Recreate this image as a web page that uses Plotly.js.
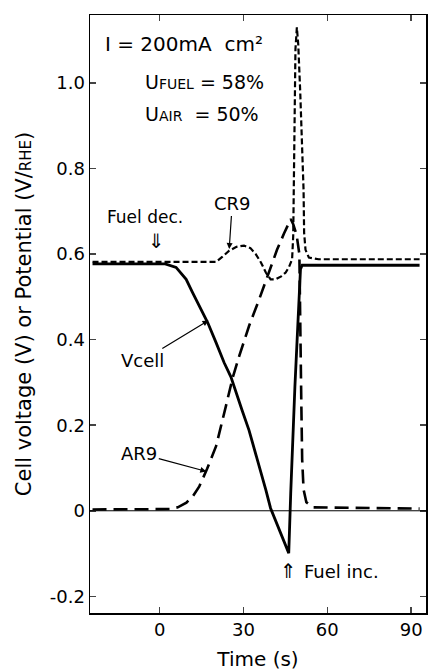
<!DOCTYPE html>
<html>
<head>
<meta charset="utf-8">
<script src="https://cdn.plot.ly/plotly-3.0.1.min.js"></script>
<style>html,body{margin:0;padding:0;background:#fff;}#chart{width:429px;height:671px;}</style>
</head>
<body>
<div id="chart"></div>
<script>
// ---- data (time in s, potential in V) ----
const vcellTime = [-24, -10, 0, 2, 5.9, 9.5, 11.8, 14.8, 17.2, 20.2, 23.1, 25.5, 27.3, 29.5, 32, 35, 38, 39.7, 42.5, 46.2, 46.9, 47.6, 48.4, 49.2, 49.9, 50.4, 51, 60, 93];
const vcellVolt = [0.577, 0.577, 0.577, 0.577, 0.569, 0.541, 0.51, 0.471, 0.44, 0.393, 0.346, 0.313, 0.276, 0.235, 0.188, 0.12, 0.049, 0.006, -0.04, -0.099, 0.04, 0.17, 0.29, 0.4, 0.5, 0.565, 0.574, 0.574, 0.574];

const cr9Time = [-24, 0, 15, 20.2, 22.5, 24.9, 27.5, 30.2, 32.5, 34.4, 36.3, 38, 39.7, 41.5, 43.5, 45.1, 46.3, 47.4, 47.8, 48.0, 48.2, 48.6, 49.1, 49.6, 50.3, 51.0, 51.5, 51.7, 52.2, 53.4, 56.9, 93];
const cr9Volt = [0.582, 0.582, 0.582, 0.582, 0.594, 0.608, 0.617, 0.62, 0.614, 0.6, 0.58, 0.557, 0.541, 0.541, 0.548, 0.557, 0.57, 0.588, 0.643, 0.78, 0.96, 1.08, 1.13, 1.09, 0.98, 0.85, 0.75, 0.65, 0.61, 0.592, 0.588, 0.588];

const ar9Time = [-24, 0, 3.6, 6.5, 9.6, 12, 14.2, 17, 20.2, 23.7, 26.1, 28.5, 32, 35.6, 39.1, 42, 44.5, 46.9, 47.8, 49, 50, 50.4, 50.7, 51, 51.5, 52.5, 55, 93];
const ar9Volt = [0.003, 0.003, 0.004, 0.008, 0.019, 0.035, 0.057, 0.098, 0.151, 0.244, 0.31, 0.362, 0.432, 0.494, 0.557, 0.61, 0.648, 0.682, 0.67, 0.645, 0.6, 0.45, 0.25, 0.12, 0.05, 0.02, 0.008, 0.005];

const xTicks = [0, 30, 60, 90];
const yTicks = [-0.2, 0, 0.2, 0.4, 0.6, 0.8, 1.0];
const yTickText = ["-0.2", "0", "0.2", "0.4", "0.6", "0.8", "1.0"];

const FONT = "DejaVu Sans";

const traces = [
  {x: vcellTime, y: vcellVolt, name: "Vcell", mode: "lines", line: {color: "#000", width: 2.8}},
  {x: cr9Time, y: cr9Volt, name: "CR9", mode: "lines", line: {color: "#000", width: 2.2, dash: "6px,3px"}},
  {x: ar9Time, y: ar9Volt, name: "AR9", mode: "lines", line: {color: "#000", width: 2.6, dash: "14px,7px"}}
];

const small = (s, sz) => "<span style='font-size:" + sz + "px'>" + s + "</span>";

const layout = {
  width: 429, height: 671,
  margin: {l: 90, r: 1, t: 15, b: 58},
  paper_bgcolor: "#fff", plot_bgcolor: "#fff",
  showlegend: false,
  font: {family: FONT, size: 17, color: "#000"},
  xaxis: {
    range: [-24.9, 95.3], tickvals: xTicks, ticks: "inside", ticklen: 6, tickwidth: 1.5,
    showline: true, linewidth: 1.5, linecolor: "#000", mirror: "ticks", showgrid: false, zeroline: false,
    tickfont: {family: FONT, size: 18},
    title: {text: "Time (s)", font: {family: FONT, size: 20}}
  },
  yaxis: {
    range: [-0.239, 1.159], tickvals: yTicks, ticktext: yTickText, ticks: "inside", ticklen: 6, tickwidth: 1.5,
    showline: true, linewidth: 1.5, linecolor: "#000", mirror: "ticks", showgrid: false, zeroline: false,
    tickfont: {family: FONT, size: 18},
    automargin: true,
    title: {text: "Cell voltage (V) or Potential (V/" + small("RHE", 15) + ")", font: {family: FONT, size: 21}, standoff: 12}
  },
  shapes: [
    {type: "line", xref: "paper", x0: 0, x1: 1, yref: "y", y0: 0, y1: 0, line: {color: "#000", width: 1}}
  ],
  annotations: [
    {x: -20.3, y: 1.092, xanchor: "left", text: "I = 200mA  cm²", showarrow: false, font: {size: 20}},
    {x: -6.0, y: 1.003, xanchor: "left", text: "U" + small("FUEL", 14) + " = 58%", showarrow: false, font: {size: 19}},
    {x: -6.0, y: 0.928, xanchor: "left", text: "U" + small("AIR", 14) + "  = 50%", showarrow: false, font: {size: 19}},
    {x: 24.9, y: 0.612, ax: 3, ay: -45, text: "CR9", showarrow: true, arrowhead: 2, arrowsize: 1, arrowwidth: 1.2, arrowcolor: "#000", font: {size: 18}},
    {x: -19.6, y: 0.687, xanchor: "left", text: "Fuel dec.", showarrow: false, font: {size: 17}},
    {x: -1.1, y: 0.63, text: "⇓", showarrow: false, font: {size: 20}},
    {x: 17.5, y: 0.445, ax: -66, ay: 40, text: "Vcell", showarrow: true, arrowhead: 2, arrowsize: 1, arrowwidth: 1.2, arrowcolor: "#000", font: {size: 18}},
    {x: 16.7, y: 0.092, ax: -67, ay: -18, text: "AR9", showarrow: true, arrowhead: 2, arrowsize: 1, arrowwidth: 1.2, arrowcolor: "#000", font: {size: 18}},
    {x: 46.2, y: -0.141, text: "⇑", showarrow: false, font: {size: 20}},
    {x: 50.9, y: -0.141, xanchor: "left", text: "Fuel inc.", showarrow: false, font: {size: 18}}
  ]
};

Plotly.newPlot("chart", traces, layout, {displayModeBar: false, staticPlot: true});
</script>
</body>
</html>
